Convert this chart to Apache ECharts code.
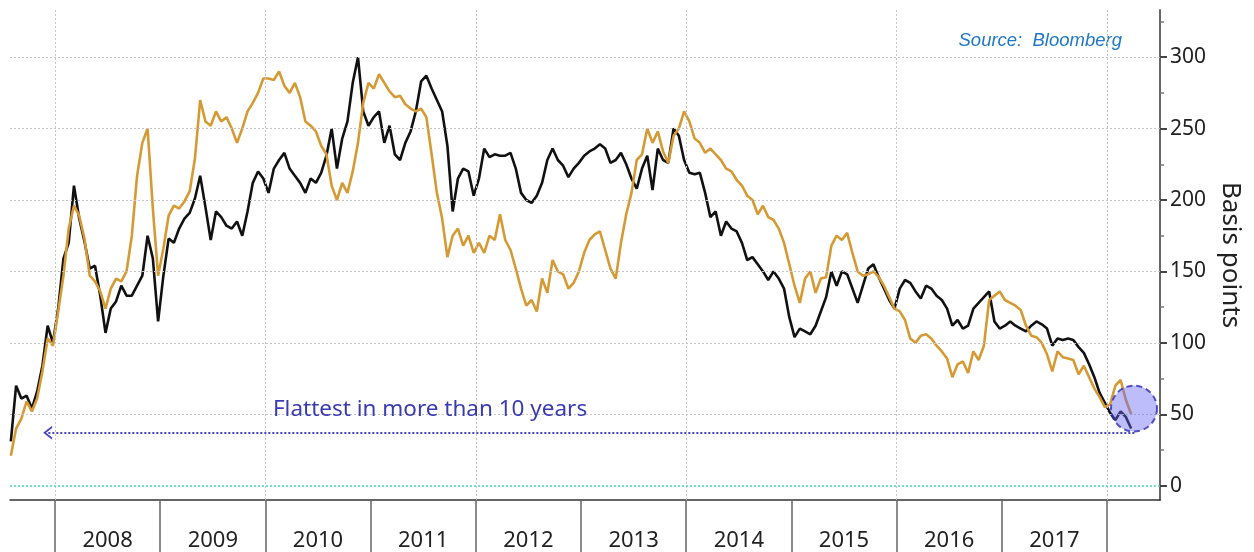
<!DOCTYPE html>
<html><head><meta charset="utf-8">
<script src="https://cdn.jsdelivr.net/npm/echarts@6/dist/echarts.min.js"></script>
<style>html,body{margin:0;padding:0;background:#fff}#c{width:1254px;height:552px}</style>
</head><body><div id="c"></div>
<script>
// Time grid: semi-regular samples, fractional years
const T0 = 2007.58, DT = 0.05;
// Black series (basis points)
const BLACK = [31,70,61,63,54,66,84,112,100,124,159,170,210,187,171,152,154,133,107,124,
129,140,133,133,140,147,175,159,115,147,173,170,180,187,191,201,217,195,172,192,
188,182,180,185,175,192,212,220,215,205,222,228,233,222,217,212,205,215,212,219,
231,250,222,243,255,282,300,262,252,258,262,240,252,232,228,240,248,262,283,287,
278,270,262,238,192,215,222,220,203,215,236,230,232,231,231,233,222,205,200,198,
203,212,228,236,228,224,216,222,226,231,234,236,239,236,226,228,233,225,215,208,
222,231,207,236,228,226,250,245,228,219,218,219,205,188,192,175,185,180,178,170,
158,160,155,150,144,150,145,138,118,104,110,108,106,112,122,132,150,140,150,148,
138,128,140,152,155,146,138,130,124,138,144,142,136,131,140,138,133,130,124,112,
116,110,112,124,128,132,136,115,110,112,115,112,110,108,112,115,113,110,98,103,
102,103,102,97,93,85,76,65,58,51,46,52,48,40];
// Gold series (basis points)
const GOLD = [21,40,47,59,52,61,80,103,98,122,147,180,196,189,173,147,143,136,124,138,
145,143,150,175,217,240,250,194,147,166,189,196,194,199,206,229,270,255,252,262,
255,258,250,240,250,262,268,275,285,285,284,290,280,275,282,272,255,252,248,238,
232,210,200,212,205,220,240,268,282,278,288,282,276,272,273,267,264,262,264,258,
232,205,187,160,175,180,168,175,163,170,163,175,172,190,172,165,152,138,126,130,
122,145,135,158,150,148,138,142,150,163,172,176,178,165,152,145,170,190,205,228,
232,250,240,248,234,226,245,250,262,255,243,240,233,236,232,228,222,220,214,210,
203,200,190,196,188,186,180,170,155,140,128,145,150,135,145,146,168,175,172,177,
163,150,147,148,150,146,140,132,124,122,116,103,100,105,106,103,98,94,89,76,
85,87,79,94,88,98,130,133,136,130,128,126,123,112,105,104,100,92,80,94,
90,89,88,78,84,76,68,62,55,57,70,74,60,50];
const YEAR_LABELS = ['2008','2009','2010','2011','2012','2013','2014','2015','2016','2017'];
const YEAR_BOUNDS = [2008,2009,2010,2011,2012,2013,2014,2015,2016,2017,2018];
const GRID_YEARS = [2008,2010,2012,2014,2016,2018];
const Y_TICKS = [0,50,100,150,200,250,300];
const Y_MINOR = [25,75,125,175,225,275,325];
const Y_GRID = [50,100,150,200,250,300];
const FLAT_LEVEL = 37;               // dotted arrow level
const ARROW_X = [2018.26, 2007.93];  // arrow from / to
const HIGHLIGHT = [2018.257, 54];    // circled latest point
const NOTE = 'Flattest in more than 10 years';
const NOTE_AT = [2011.565, 53.5];
const SOURCE = 'Source:  Bloomberg';

const toXY = arr => arr.map((v, i) => [+(T0 + i * DT).toFixed(3), v]);
const gridStyle = {color: '#c4c4c4', width: 1, type: [2, 2]};

const chart = echarts.init(document.getElementById('c'), null, {renderer: 'canvas'});
chart.setOption({
  animation: false,
  backgroundColor: '#fff',
  grid: {left: 10, right: 94, top: 10, bottom: 51, containLabel: false},
  xAxis: {
    type: 'value', min: 2007.572, max: 2018.504,
    axisLine: {show: true, onZero: false, lineStyle: {color: '#333', width: 1.5}},
    axisTick: {show: true, customValues: YEAR_BOUNDS, length: 52, inside: false,
      lineStyle: {color: '#666', width: 1.5}},
    axisLabel: {show: true, customValues: YEAR_LABELS.map(y => +y + 0.5),
      formatter: v => YEAR_LABELS.find(y => +y === Math.floor(v)) || '',
      fontFamily: 'Noto Sans', fontSize: 22, color: '#222', margin: 30},
    splitLine: {show: false}
  },
  yAxis: [{
    type: 'value', position: 'right', min: -10, max: 333,
    name: 'Basis points', nameLocation: 'middle', nameRotate: -90, nameGap: 56,
    nameTextStyle: {fontFamily: 'Noto Sans', fontSize: 26, color: '#222'},
    axisLine: {show: true, lineStyle: {color: '#666', width: 2}},
    axisTick: {show: true, customValues: Y_TICKS, length: 7, lineStyle: {color: '#444', width: 2}},
    axisLabel: {show: true, customValues: Y_TICKS, fontFamily: 'Noto Sans', fontSize: 21,
      color: '#222', margin: 10},
    splitLine: {show: false}
  }, {
    type: 'value', position: 'right', min: -10, max: 333,
    axisLine: {show: false},
    axisTick: {show: true, customValues: Y_MINOR, length: 4, lineStyle: {color: '#777', width: 1.5}},
    axisLabel: {show: false},
    splitLine: {show: false}
  }],
  graphic: [{
    type: 'text', right: 132, top: 31,
    style: {text: SOURCE, font: 'italic 18.5px "Liberation Sans"', fill: '#1f78c8'}
  }],
  series: [
    {
      type: 'line', data: [], z: 1, silent: true,
      markLine: {
        silent: true, symbol: 'none', label: {show: false}, lineStyle: gridStyle,
        data: [
          ...Y_GRID.map(v => ({yAxis: v})),
          ...GRID_YEARS.map(v => ({xAxis: v})),
          {yAxis: 0, lineStyle: {color: '#46d3cc', width: 1.5, type: [2, 2]}}
        ]
      }
    },
    {
      name: 'black', type: 'line', data: toXY(BLACK), showSymbol: false, z: 3,
      lineStyle: {color: '#111', width: 2.6}, itemStyle: {color: '#111'}
    },
    {
      name: 'gold', type: 'line', data: toXY(GOLD), showSymbol: false, z: 4,
      lineStyle: {color: '#d59a34', width: 2.6}, itemStyle: {color: '#d59a34'}
    },
    {
      type: 'line', data: [], z: 5, silent: true,
      markLine: {
        silent: true, label: {show: false},
        symbol: ['none', 'path://M0,10 L5,0 L10,10 L8.4,10 L5,3.2 L1.6,10 Z'],
        symbolSize: [14, 9],
        lineStyle: {color: '#4545c4', width: 2, type: [2, 2]},
        data: [[{coord: [ARROW_X[0], FLAT_LEVEL]}, {coord: [ARROW_X[1], FLAT_LEVEL]}]]
      },
      markPoint: {
        silent: true, symbol: 'circle', symbolSize: 1,
        itemStyle: {color: 'rgba(0,0,0,0)'},
        label: {show: true, position: 'inside', formatter: NOTE,
          fontFamily: 'Noto Sans', fontSize: 22.5, color: '#3b3bb0'},
        data: [{coord: NOTE_AT}]
      }
    },
    {
      type: 'scatter', data: [HIGHLIGHT], z: 6, silent: true, symbolSize: 46,
      itemStyle: {color: 'rgba(105,105,245,0.55)', borderColor: '#2d2db5',
        borderWidth: 2, borderType: [6, 4]}
    }
  ]
});
</script></body></html>
